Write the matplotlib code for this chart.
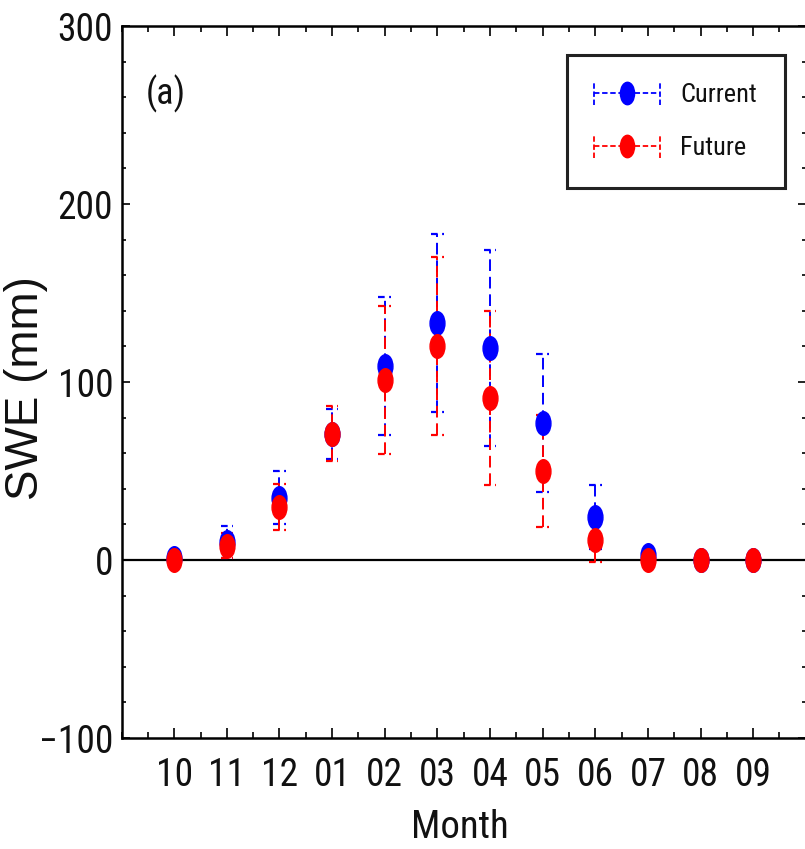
import matplotlib
matplotlib.use("Agg")
import matplotlib.pyplot as plt
from matplotlib import font_manager
from matplotlib.legend_handler import HandlerBase
from matplotlib.lines import Line2D
from matplotlib.path import Path
from matplotlib.transforms import Affine2D
from matplotlib.ticker import MultipleLocator
import numpy as np

# Monthly SWE (mm), water year Oct -> Sep
months = ["10", "11", "12", "01", "02", "03", "04", "05", "06", "07", "08", "09"]
current_mean = [1, 10, 35, 71, 109, 133, 119, 77, 24, 3, 0, 0]
current_std = [0, 9, 15, 14, 39, 50, 55, 39, 18, 1, 0, 0]
future_mean = [0, 8, 30, 71, 101, 120, 91, 50, 11, 0, 0, 0]
future_std = [0, 7, 13, 15.5, 41.5, 50, 49, 31.5, 12, 0, 0, 0]

# look for a narrow / condensed face, the original text is squashed
NARROW = {"family": "Liberation Sans"}
narrow_faces = [f for f in font_manager.fontManager.ttflist
                if ("Narrow" in f.name or "Condensed" in f.name
                    or str(f.stretch) in ("condensed", "semi-condensed", "extra-condensed"))
                and f.style == "normal" and f.weight in (400, "normal", "regular")]
for pref in ["Liberation Sans Narrow", "Roboto Condensed", "Open Sans Condensed",
             "Noto Sans", "DejaVu Sans"]:
    hits = [f for f in narrow_faces if f.name == pref]
    if hits:
        NARROW = {"family": pref, "stretch": hits[0].stretch}
        break

# tall ellipse marker
ELLIPSE = Path.unit_circle().transformed(Affine2D().scale(0.63, 1.0))
MS = 17
CAP_HALF = 0.12


class HandlerSeries(HandlerBase):
    # dashed line with a marker in the middle and dashed caps at both ends
    def create_artists(self, legend, orig_handle, xdescent, ydescent,
                       width, height, fontsize, trans):
        c = orig_handle.get_color()
        y = height / 2 - ydescent
        x0, x1 = -xdescent, width - xdescent
        h = 0.45 * fontsize
        line = Line2D([x0, x1], [y, y], color=c, ls=(0, (3, 1.5)), lw=1.3)
        capl = Line2D([x0, x0], [y - h, y + h], color=c, ls=(0, (3, 1.5)), lw=1.3)
        capr = Line2D([x1, x1], [y - h, y + h], color=c, ls=(0, (3, 1.5)), lw=1.3)
        mk = Line2D([(x0 + x1) / 2], [y], ls="none", marker=ELLIPSE,
                    markersize=MS * 0.95, color=c)
        arts = [line, capl, capr, mk]
        for a in arts:
            a.set_transform(trans)
        return arts


def narrow(size):
    p = font_manager.FontProperties(family=NARROW["family"], size=size)
    if "stretch" in NARROW:
        p.set_stretch(NARROW["stretch"])
    return p


fig = plt.figure(figsize=(8.05, 8.49), dpi=100)
ax = fig.add_axes([0.151, 0.1307, 0.850, 0.8386])

x = np.arange(1, len(months) + 1)

ax.axhline(0, color="black", lw=1.6, zorder=1)

handles = []
for mean, std, color, label in [
    (current_mean, current_std, "blue", "Current"),
    (future_mean, future_std, "red", "Future"),
]:
    mean = np.array(mean, dtype=float)
    std = np.array(std, dtype=float)
    lo, hi = mean - std, mean + std
    ax.vlines(x, lo, hi, colors=color, linestyles=(0, (6, 3)), lw=1.4, zorder=2)
    ax.hlines(np.concatenate([lo, hi]), np.concatenate([x, x]) - CAP_HALF,
              np.concatenate([x, x]) + CAP_HALF, colors=color,
              linestyles=(0, (3, 2)), lw=1.6, zorder=2)
    ax.plot(x, mean, ls="none", marker=ELLIPSE, markersize=MS, color=color, zorder=3)
    handles.append(Line2D([], [], color=color, label=label))

ax.set_xlim(0, 13)
ax.set_ylim(-100, 300)
ax.set_xticks(x)
ax.set_xticklabels(months)
ax.xaxis.set_minor_locator(MultipleLocator(0.5))
ax.set_yticks([-100, 0, 100, 200, 300])
ax.yaxis.set_minor_locator(MultipleLocator(20))
ax.tick_params(which="both", direction="in", top=True, right=True, width=1.2)
ax.tick_params(axis="x", which="major", length=7, pad=14)
ax.tick_params(axis="x", which="minor", length=4)
ax.tick_params(axis="y", which="major", length=6, pad=6)
ax.tick_params(axis="y", which="minor", length=3)

for lab in ax.get_xticklabels() + ax.get_yticklabels():
    lab.set_fontproperties(narrow(27))
    lab.set_color("#111111")

for spine in ax.spines.values():
    spine.set_linewidth(1.8)

ax.set_xlabel("Month", fontproperties=narrow(28), color="#111111")
ax.xaxis.set_label_coords(0.494, -0.099)
ax.set_ylabel("SWE (mm)", fontfamily="Liberation Sans", fontsize=33, color="#111111")
ax.yaxis.set_label_coords(-0.107, 0.492)

ax.text(0.035, 0.905, "(a)", transform=ax.transAxes, fontproperties=narrow(26),
        color="#111111", ha="left", va="center")

leg = ax.legend(handles=handles, loc="upper right", bbox_to_anchor=(0.969, 0.959),
                borderaxespad=0, handler_map={Line2D: HandlerSeries()},
                prop=narrow(19), handlelength=2.5,
                handletextpad=0.75, labelspacing=1.1, borderpad=1.05,
                fancybox=False, framealpha=1, edgecolor="#222222")
leg.get_frame().set_linewidth(2.2)
for t in leg.get_texts():
    t.set_color("#111111")

fig.savefig("out.png", dpi=100)
